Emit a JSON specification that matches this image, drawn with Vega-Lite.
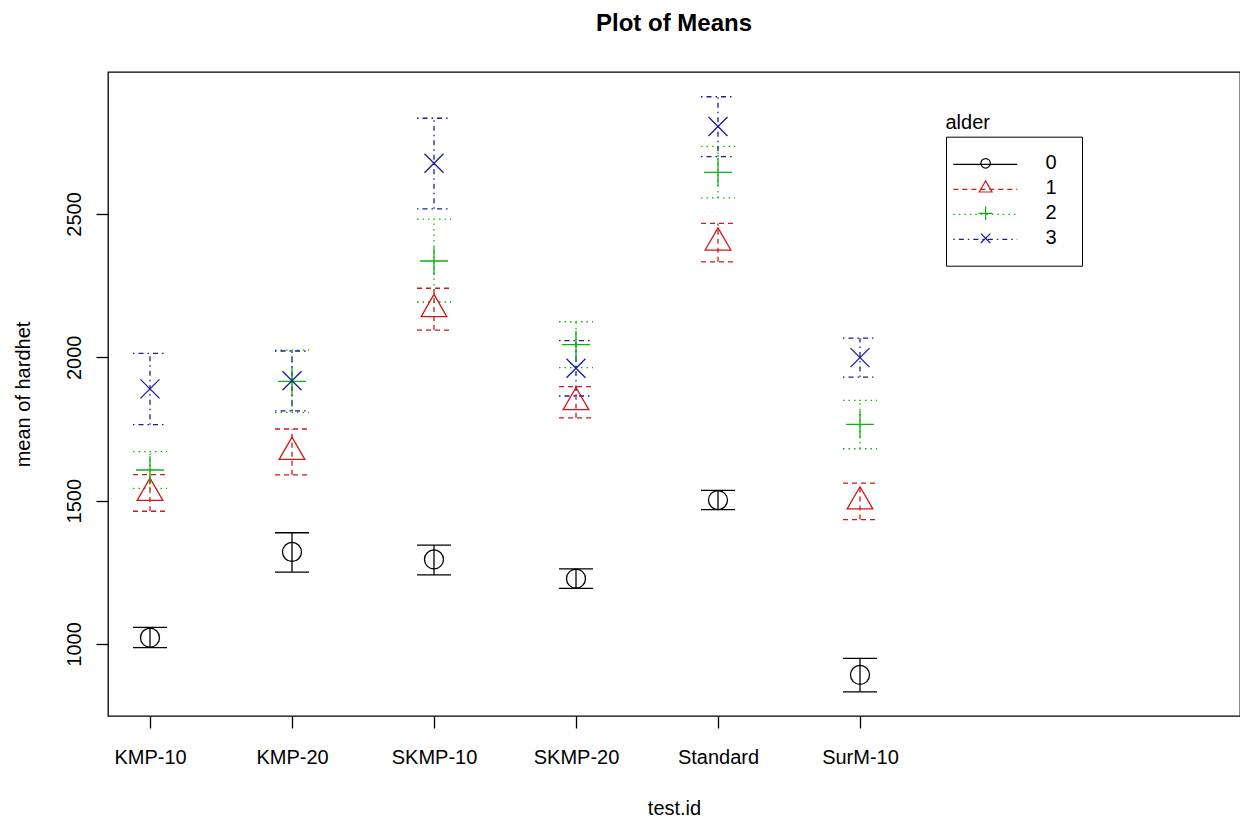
{
  "$schema": "https://vega.github.io/schema/vega-lite/v6.json",
  "width": 1132,
  "height": 644,
  "autosize": {"type": "none"},
  "padding": {"left": 108, "top": 72, "right": 0, "bottom": 102},
  "background": "white",
  "title": {"text": "Plot of Means", "font": "Liberation Sans", "fontSize": 24, "fontWeight": "bold", "color": "black", "anchor": "middle", "frame": "group", "baseline": "alphabetic", "offset": 17.3},
  "config": {"view": {"stroke": "black", "strokeWidth": 1.3}, "font": "Liberation Sans"},
  "data": {"values": [
    {"test": "KMP-10", "alder": "0", "mean": 1022, "lo": 987, "hi": 1058},
    {"test": "KMP-10", "alder": "1", "mean": 1527, "lo": 1463, "hi": 1591},
    {"test": "KMP-10", "alder": "2", "mean": 1607, "lo": 1543, "hi": 1671},
    {"test": "KMP-10", "alder": "3", "mean": 1890, "lo": 1765, "hi": 2014},
    {"test": "KMP-20", "alder": "0", "mean": 1321, "lo": 1251, "hi": 1388},
    {"test": "KMP-20", "alder": "1", "mean": 1670, "lo": 1590, "hi": 1750},
    {"test": "KMP-20", "alder": "2", "mean": 1916, "lo": 1808, "hi": 2025},
    {"test": "KMP-20", "alder": "3", "mean": 1918, "lo": 1813, "hi": 2022},
    {"test": "SKMP-10", "alder": "0", "mean": 1295, "lo": 1241, "hi": 1345},
    {"test": "SKMP-10", "alder": "1", "mean": 2168, "lo": 2095, "hi": 2241},
    {"test": "SKMP-10", "alder": "2", "mean": 2336, "lo": 2193, "hi": 2482},
    {"test": "SKMP-10", "alder": "3", "mean": 2677, "lo": 2518, "hi": 2834},
    {"test": "SKMP-20", "alder": "0", "mean": 1228, "lo": 1194, "hi": 1262},
    {"test": "SKMP-20", "alder": "1", "mean": 1843, "lo": 1789, "hi": 1898},
    {"test": "SKMP-20", "alder": "2", "mean": 2044, "lo": 1964, "hi": 2124},
    {"test": "SKMP-20", "alder": "3", "mean": 1962, "lo": 1865, "hi": 2058},
    {"test": "Standard", "alder": "0", "mean": 1502, "lo": 1469, "hi": 1536},
    {"test": "Standard", "alder": "1", "mean": 2400, "lo": 2333, "hi": 2467},
    {"test": "Standard", "alder": "2", "mean": 2645, "lo": 2556, "hi": 2736},
    {"test": "Standard", "alder": "3", "mean": 2805, "lo": 2700, "hi": 2909},
    {"test": "SurM-10", "alder": "0", "mean": 892, "lo": 833, "hi": 950},
    {"test": "SurM-10", "alder": "1", "mean": 1497, "lo": 1434, "hi": 1561},
    {"test": "SurM-10", "alder": "2", "mean": 1766, "lo": 1681, "hi": 1850},
    {"test": "SurM-10", "alder": "3", "mean": 1999, "lo": 1931, "hi": 2067}
  ]},
  "encoding": {
    "x": {
      "field": "test", "type": "nominal",
      "scale": {"type": "point", "domain": ["KMP-10", "KMP-20", "SKMP-10", "SKMP-20", "Standard", "SurM-10"], "range": [42, 752], "padding": 0},
      "axis": {"title": "test.id", "titleX": 566, "labelAngle": 0, "domain": false, "grid": false, "tickSize": 12, "tickColor": "black", "tickWidth": 1.3, "labelFont": "Liberation Sans", "labelFontSize": 20, "labelColor": "black", "labelPadding": 19.5, "titleFont": "Liberation Sans", "titleFontSize": 20, "titleFontWeight": "normal", "titleColor": "black", "titlePadding": 31.2}
    }
  },
  "layer": [
    {
      "mark": {"type": "rule", "strokeWidth": 1.3},
      "encoding": {
        "y": {"field": "lo", "type": "quantitative", "title": "mean of hardhet",
          "scale": {"domain": [748.8, 2995.3], "nice": false, "zero": false},
          "axis": {"values": [1000, 1500, 2000, 2500], "format": "d", "labelAngle": -90, "labelAlign": "center", "labelBaseline": "alphabetic", "labelPadding": 16, "domain": false, "grid": false, "tickSize": 12, "tickColor": "black", "tickWidth": 1.3, "labelFont": "Liberation Sans", "labelFontSize": 20, "labelColor": "black", "titleFont": "Liberation Sans", "titleFontSize": 20, "titleFontWeight": "normal", "titleColor": "black", "titlePadding": 31}},
        "y2": {"field": "hi"},
        "stroke": {"field": "alder", "type": "nominal", "scale": {"domain": ["0", "1", "2", "3"], "range": ["#000000", "#D01818", "#10B010", "#1A1AA0"]},
          "legend": {"orient": "none", "legendX": 837.5, "legendY": 40.9, "direction": "vertical", "title": "alder", "titleFont": "Liberation Sans", "titleFontSize": 20, "titleFontWeight": "normal", "titleColor": "black", "titlePadding": 21.4, "titleAnchor": "start", "titleBaseline": "top", "padding": 0, "symbolType": "M-0.244,0L6.867,0", "symbolSize": 324, "symbolStrokeWidth": 1.2, "rowPadding": 5, "labelOpacity": 0, "labelFont": "Liberation Sans", "labelFontSize": 20, "labelOffset": 62.9}},
        "strokeDash": {"field": "alder", "type": "nominal", "scale": {"domain": ["0", "1", "2", "3"], "range": [[1, 0], [5, 4], [1.5, 4], [1.5, 4, 5, 4]]},
          "legend": {"orient": "none", "legendX": 837.5, "legendY": 40.9, "direction": "vertical", "title": "alder", "titleFont": "Liberation Sans", "titleFontSize": 20, "titleFontWeight": "normal", "titleColor": "black", "titlePadding": 21.4, "titleAnchor": "start", "titleBaseline": "top", "padding": 0, "symbolType": "M-0.244,0L6.867,0", "symbolSize": 324, "symbolStrokeWidth": 1.2, "rowPadding": 5, "labelOpacity": 0, "labelFont": "Liberation Sans", "labelFontSize": 20, "labelOffset": 62.9}}
      }
    },
    {
      "mark": {"type": "rule", "strokeWidth": 1.3, "xOffset": -17, "x2Offset": 17},
      "encoding": {
        "x2": {"field": "test"},
        "y": {"field": "lo", "type": "quantitative", "title": "mean of hardhet"},
        "stroke": {"field": "alder", "type": "nominal", "scale": {"domain": ["0", "1", "2", "3"], "range": ["#000000", "#D01818", "#10B010", "#1A1AA0"]}},
        "strokeDash": {"field": "alder", "type": "nominal", "scale": {"domain": ["0", "1", "2", "3"], "range": [[1, 0], [5, 4], [1.5, 4], [1.5, 4, 5, 4]]}}
      }
    },
    {
      "mark": {"type": "rule", "strokeWidth": 1.3, "xOffset": -17, "x2Offset": 17},
      "encoding": {
        "x2": {"field": "test"},
        "y": {"field": "hi", "type": "quantitative", "title": "mean of hardhet"},
        "stroke": {"field": "alder", "type": "nominal", "scale": {"domain": ["0", "1", "2", "3"], "range": ["#000000", "#D01818", "#10B010", "#1A1AA0"]}},
        "strokeDash": {"field": "alder", "type": "nominal", "scale": {"domain": ["0", "1", "2", "3"], "range": [[1, 0], [5, 4], [1.5, 4], [1.5, 4, 5, 4]]}}
      }
    },
    {
      "mark": {"type": "point", "filled": false, "size": 900, "strokeWidth": 1.3, "opacity": 1, "xOffset": -26},
      "encoding": {
        "y": {"field": "mean", "type": "quantitative", "title": "mean of hardhet"},
        "color": {"field": "alder", "type": "nominal", "scale": {"range": ["#000000", "#D01818", "#10B010", "#1A1AA0"]},
          "legend": {"orient": "none", "legendX": 838, "legendY": 64.7, "direction": "vertical", "title": null, "padding": 16.6, "strokeColor": "black", "symbolSize": 225, "symbolStrokeWidth": 1.2, "rowPadding": 5, "labelFont": "Liberation Sans", "labelFontSize": 20, "labelColor": "black", "labelOffset": 62.9, "labelBaseline": "middle"}},
        "shape": {
          "field": "alder", "type": "nominal",
          "scale": {"range": [
            "M11.97,0M2.366,0A0.633,0.633,0,1,1,1.1,0A0.633,0.633,0,1,1,2.366,0Z",
            "M11.97,0M1.733,-0.987L2.588,0.493L0.878,0.493Z",
            "M11.97,0M0.803,0L2.663,0M1.733,-0.93L1.733,0.93",
            "M11.97,0M1.1,-0.633L2.366,0.633M1.1,0.633L2.366,-0.633"
          ]},
          "legend": {"orient": "none", "legendX": 838, "legendY": 64.7, "direction": "vertical", "title": null, "padding": 16.6, "strokeColor": "black", "symbolSize": 225, "symbolStrokeWidth": 1.2, "rowPadding": 5, "labelFont": "Liberation Sans", "labelFontSize": 20, "labelColor": "black", "labelOffset": 62.9, "labelBaseline": "middle"}
        }
      }
    }
  ]
}
